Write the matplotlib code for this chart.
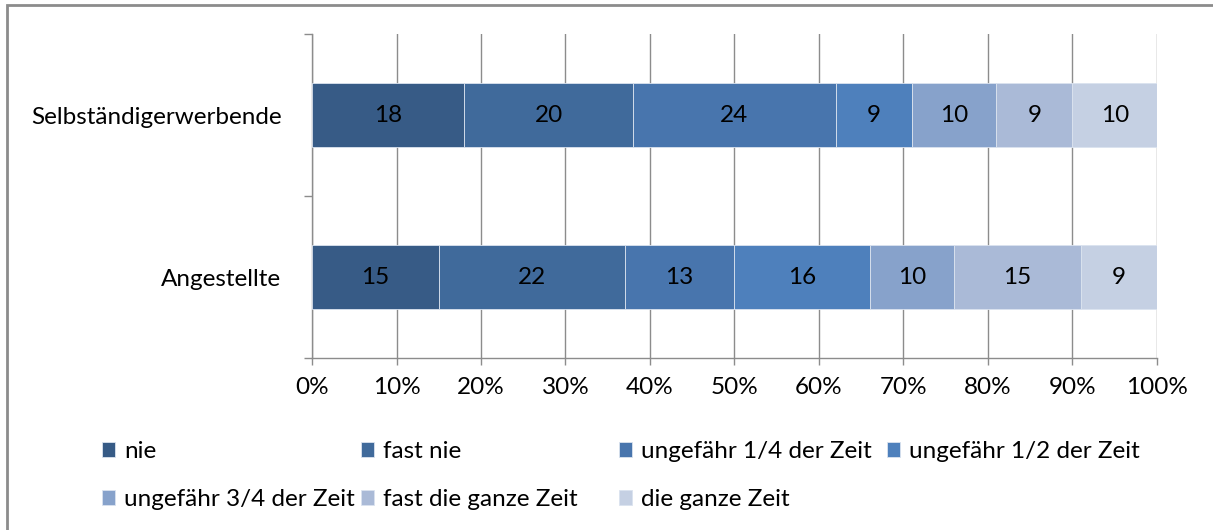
import matplotlib.pyplot as plt
from matplotlib.patches import Rectangle
from matplotlib.ticker import FuncFormatter, FixedLocator

plt.rcParams['font.family'] = ['Lato', 'DejaVu Sans']

# data (percent, each row sums to 100)
groups = ['Selbständigerwerbende', 'Angestellte']
answers = ['nie', 'fast nie', 'ungefähr 1/4 der Zeit', 'ungefähr 1/2 der Zeit',
           'ungefähr 3/4 der Zeit', 'fast die ganze Zeit', 'die ganze Zeit']
selbst = [18, 20, 24, 9, 10, 9, 10]
angest = [15, 22, 13, 16, 10, 15, 9]
colors = ['#375b86', '#406a9b', '#4875ad', '#4e80bc', '#87a2cb', '#aabad7', '#c5d0e3']

values = [selbst, angest]
ypos = [1, 0]
fs = 17.5

fig = plt.figure(figsize=(12.13, 5.30), dpi=100)
ax = fig.add_axes([312 / 1213, 1 - 358 / 530, (1157 - 312) / 1213, (358 - 34) / 530])

grey = '#8c8c8c'
left = [0, 0]
handles = []
for i, name in enumerate(answers):
    w = [values[g][i] for g in range(2)]
    bars = ax.barh(ypos, w, left=left, height=0.4, color=colors[i],
                   edgecolor='#dbe3ef', linewidth=0.6, label=name, zorder=3)
    handles.append(bars)
    for g in range(2):
        ax.text(left[g] + w[g] / 2, ypos[g], str(w[g]), ha='center', va='center',
                fontsize=fs, color='black', zorder=4)
    left = [left[g] + w[g] for g in range(2)]

ax.set_xlim(0, 100)
ax.set_ylim(-0.5, 1.5)
ax.set_xticks(range(0, 101, 10))
ax.xaxis.set_major_formatter(FuncFormatter(lambda v, p: f'{int(v)}%'))
ax.set_yticks(ypos)
ax.set_yticklabels(groups)
ax.yaxis.set_minor_locator(FixedLocator([-0.5, 0.5, 1.5]))
ax.tick_params(axis='y', which='major', length=0, pad=22, labelsize=fs)
ax.tick_params(axis='y', which='minor', length=6, color=grey, width=1)
ax.tick_params(axis='x', length=5, color=grey, width=1, labelsize=fs, pad=9)
ax.xaxis.grid(True, color=grey, linewidth=1, zorder=0)
ax.set_axisbelow(True)
for s in ['top', 'right']:
    ax.spines[s].set_visible(False)
for s in ['left', 'bottom']:
    ax.spines[s].set_color(grey)
    ax.spines[s].set_linewidth(1)

# legend: 4 equal-width columns, filled row by row
col_x = [102, 361, 619, 887]
for c, x in enumerate(col_x):
    idx = [k for k in (c, c + 4) if k < len(answers)]
    fig.legend([handles[k] for k in idx], [answers[k] for k in idx],
               loc='upper left', bbox_to_anchor=(x / 1213, 1 - 441 / 530),
               frameon=False, fontsize=fs, handlelength=0.55, handleheight=0.55,
               handletextpad=0.35, labelspacing=1.12, borderpad=0, borderaxespad=0)

# outer chart border (top and left visible)
fig.patches.append(Rectangle((7 / 1213, -0.1), 1.2, 1 - 5 / 530 + 0.1,
                             transform=fig.transFigure, fill=False,
                             edgecolor='#8c8c8c', linewidth=2))

fig.savefig('out.png', dpi=100)
